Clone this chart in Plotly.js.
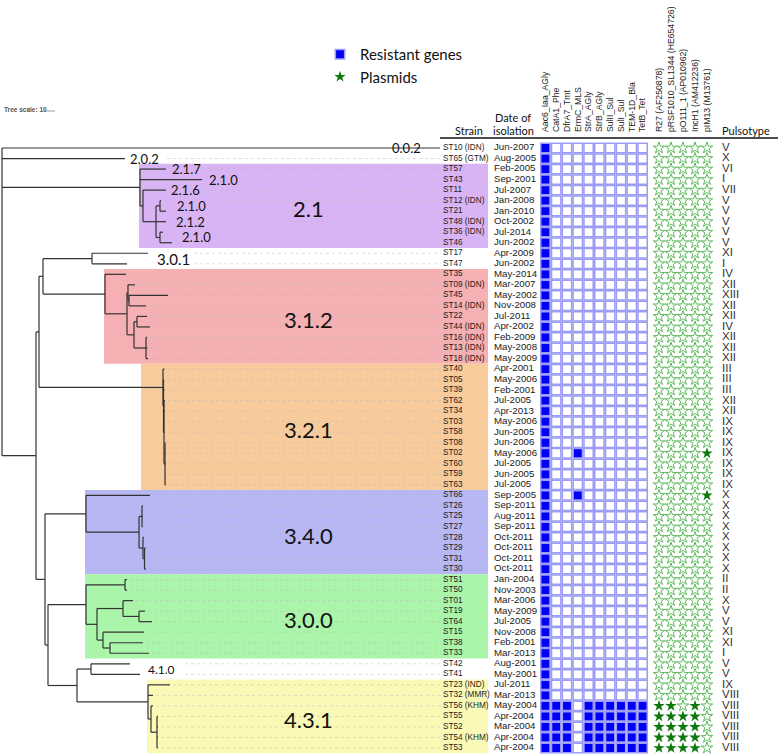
<!DOCTYPE html>
<html><head><meta charset="utf-8">
<script src="https://cdn.plot.ly/plotly-3.0.1.min.js"></script>
<style>html,body{margin:0;padding:0;background:#fff}</style>
</head><body><div id="chart" style="width:778px;height:756px"></div>
<script>
// ---------------- DATA ----------------
const strainIds = ['ST10','ST65','ST57','ST43','ST11','ST12','ST21','ST48','ST36','ST46','ST17','ST47','ST35','ST09','ST45','ST14','ST22','ST44','ST16','ST13','ST18','ST40','ST05','ST39','ST62','ST34','ST03','ST58','ST08','ST02','ST60','ST59','ST63','ST66','ST26','ST25','ST27','ST28','ST29','ST31','ST30','ST51','ST50','ST01','ST19','ST64','ST15','ST38','ST33','ST42','ST41','ST23','ST32','ST56','ST55','ST52','ST54','ST53'];
const strainOrigins = ['IDN','GTM','','','','IDN','','IDN','IDN','','','','','IDN','','IDN','','IDN','IDN','IDN','IDN','','','','','','','','','','','','','','','','','','','','','','','','','','','','','','','IND','MMR','KHM','','','KHM',''];
const isolationDates = ['Jun-2007','Aug-2005','Feb-2005','Sep-2001','Jul-2007','Jan-2008','Jan-2010','Oct-2002','Jul-2014','Jun-2002','Apr-2009','Jun-2002','May-2014','Mar-2007','May-2002','Nov-2008','Jul-2011','Apr-2002','Feb-2009','May-2008','May-2009','Apr-2001','May-2006','Feb-2001','Jul-2005','Apr-2013','May-2006','Jun-2005','Jun-2006','May-2006','Jul-2005','Jun-2005','Jul-2005','Sep-2005','Sep-2011','Aug-2011','Sep-2011','Oct-2011','Oct-2011','Oct-2011','Oct-2011','Jan-2004','Nov-2003','Mar-2006','May-2009','Jul-2005','Nov-2008','Feb-2001','Mar-2013','Aug-2001','May-2001','Jul-2011','Mar-2013','May-2004','Apr-2004','Mar-2004','Apr-2004','Apr-2004'];
const pulsotypes = ['V','X','VI','I','VII','V','V','V','V','V','XI','I','IV','XII','XIII','XII','XII','IV','XII','XII','XII','III','III','III','XII','XII','IX','IX','IX','IX','IX','IX','IX','X','X','X','X','X','X','X','X','II','II','X','V','V','XI','XI','I','V','V','IX','VIII','VIII','VIII','VIII','VIII','VIII'];

const genes = ['Aac6_Iaa_AGly','CatA1_Phe','DfrA7_Tmt','ErmC_MLS','StrA_AGly','StrB_AGly','SulII_Sul','SulI_Sul','TEM-1D_Bla','TetB_Tet'];
const plasmids = ['R27 (AF250878)','pRSF1010_SL1344 (HE654726)','pO111_1 (AP010962)','IncH1 (AM412236)','pIM13 (M13761)'];
// 1 = present
const geneProfiles = ['1000000000','1000000000','1000000000','1000000000','1000000000','1000000000','1000000000','1000000000','1000000000','1000000000',
 '1000000000','1000000000','1000000000','1000000000','1000000000','1000000000','1000000000','1000000000','1000000000','1000000000',
 '1000000000','1000000000','1000000000','1000000000','1000000000','1000000000','1000000000','1000000000','1000000000','1001000000',
 '1000000000','1000000000','1000000000','1001000000','1000000000','1000000000','1000000000','1000000000','1000000000','1000000000',
 '1000000000','1000000000','1000000000','1000000000','1000000000','1000000000','1000000000','1000000000','1000000000','1000000000',
 '1000000000','1000000000','1000000000','1110111111','1110111111','1110111111','1110111111','1110111111'];
const plasmidProfiles = ['00000','00000','00000','00000','00000','00000','00000','00000','00000','00000',
 '00000','00000','00000','00000','00000','00000','00000','00000','00000','00000',
 '00000','00000','00000','00000','00000','00000','00000','00000','00000','00001',
 '00000','00000','00000','00001','00000','00000','00000','00000','00000','00000',
 '00000','00000','00000','00000','00000','00000','00000','00000','00000','00000',
 '00000','00000','00000','11010','11110','11110','11110','11110'];

// Phylogenetic tree: node, parent, distance from root (tree units)
const treeNodes   = ['root','ST10','ST65','N21','ST57','ST43','N21b','ST11','N21c','N21d','ST12','ST21','ST48','N21e','ST36','ST46',
 'NRest','N39','N3a','N301','ST17','ST47','N312','ST35','N312b','N312c','ST09','N312e','ST45','ST14','N312d','N312f','ST22','ST44','N312g','ST16','ST13','ST18',
 'N321','N321a','ST40','N321b','ST05','ST39','N321c','ST62','ST34','ST03','ST58','N321d','ST08','ST02','ST60','ST59','ST63',
 'N45','N340','ST66','N340b','N340c','ST26','ST25','ST27','N340d','ST28','N340e','ST29','ST31','ST30',
 'NLow','N300','N300a','ST51','ST50','N300b','N300c','ST01','N300e','ST19','ST64','N300d','ST15','N300f','ST38','ST33',
 'N4','N410','ST42','ST41','N431','ST23','ST32','N431b','ST56','N431c','ST55','ST52','ST54','ST53'];
const treeParents = [null,'root','root','root','N21','N21','N21','N21b','N21b','N21c','N21d','N21d','N21c','N21c','N21e','N21e',
 'root','NRest','N39','N3a','N301','N301','N3a','N312','N312','N312b','N312c','N312c','N312e','N312e','N312b','N312d','N312f','N312f','N312d','N312g','N312g','N312g',
 'N39','N321','N321a','N321a','N321b','N321b','N321b','N321c','N321c','N321c','N321c','N321c','N321d','N321d','N321d','N321d','N321d',
 'NRest','N45','N340','N340','N340b','N340c','N340c','N340c','N340b','N340d','N340d','N340e','N340e','N340e',
 'N45','NLow','N300','N300a','N300a','N300','N300b','N300c','N300c','N300e','N300e','N300b','N300d','N300d','N300f','N300f',
 'NLow','N4','N410','N410','N4','N431','N431','N431','N431b','N431b','N431c','N431c','N431c','N431c'];
const treeDepth   = [2,440,125,140,166,202,143,166,156,160,161,166,166,160,163,172,
 36,39,43,92,148,127,105,126,127,128,135,129,168,146,134,137,147,150,146,147,147.5,148,
 142,163,164.5,163.5,164,164.5,164,165,165,164.5,165,165,165.5,166,166,165.5,166,
 45,86,150,139,142,143,143,142.5,143,144,144.5,146,145,146,
 48,86,125,127,127,97,123,133,139,145,152,103,144,110,143,149,
 77,91,130,140,148,170,153,151,153,157,158,158,158,158];

const cladeNames = ['2.1','3.1.2','3.2.1','3.4.0','3.0.0','4.3.1'];
const cladeNodes = ['N21','N312','N321','N340','N300','N431'];
const cladeFirst = ['ST57','ST35','ST40','ST66','ST51','ST23'];
const cladeLast  = ['ST46','ST18','ST63','ST30','ST33','ST53'];

const lineageText  = ['0.0.2','2.0.2','2.1.7','2.1.0','2.1.6','2.1.0','2.1.2','2.1.0','3.0.1','4.1.0'];
const lineageFirst = ['ST10','ST65','ST57','ST43','ST11','ST12','ST48','ST36','ST17','ST42'];
const lineageLast  = ['ST10','ST65','ST57','ST43','ST11','ST21','ST48','ST46','ST47','ST41'];

// ---------------- STYLE / LAYOUT HELPERS ----------------
const W = 778, H = 756;
const py = v => 1 - v / H;
const cladeColors = ['#d9b4f4','#f4b0b2','#f8cb9d','#b7b7f4','#aaf5aa','#fafab6'];
const lineageOffsets = [-50, 3, 4, 5, 3, 9, 8, 8, 7, 6];
const lineageSizes = [13,13,13,13,13,13,13,13,15,12];
const arial = 'Liberation Sans, Arial, sans-serif';
const calibri = 'Lato, Open Sans, sans-serif';

// ---------------- TREE GEOMETRY ----------------
const nodeIdx = {}; treeNodes.forEach((n, i) => nodeIdx[n] = i);
const rowOf = {}; strainIds.forEach((s, i) => rowOf[s] = i);
const kids = treeNodes.map(() => []);
treeParents.forEach((p, i) => { if (p) kids[nodeIdx[p]].push(i); });
const yPos = new Array(treeNodes.length);
(function setY(i) {
  if (kids[i].length === 0) { yPos[i] = rowOf[treeNodes[i]]; return; }
  kids[i].forEach(setY);
  const c = kids[i];
  yPos[i] = (yPos[c[0]] + yPos[c[c.length - 1]]) / 2;
})(0);
const tx = [], ty = [];
treeNodes.forEach((n, i) => {
  const p = treeParents[i];
  if (p) { tx.push(treeDepth[nodeIdx[p]], treeDepth[i], null); ty.push(yPos[i], yPos[i], null); }
  if (kids[i].length > 1) {
    const ys = kids[i].map(k => yPos[k]);
    tx.push(treeDepth[i], treeDepth[i], null); ty.push(Math.min(...ys), Math.max(...ys), null);
  }
});
const tipDepth = s => treeDepth[nodeIdx[s]];

// lineage labels positions
const labelStart = {};
const lineageAnn = lineageText.map((t, k) => {
  const r0 = rowOf[lineageFirst[k]], r1 = rowOf[lineageLast[k]];
  let mx = 0; for (let r = r0; r <= r1; r++) mx = Math.max(mx, tipDepth(strainIds[r]));
  const x = mx + lineageOffsets[k];
  for (let r = r0; r <= r1; r++) labelStart[r] = x + t.length * 7 + 4;
  return {x: x, y: (r0 + r1) / 2, xref: 'x', yref: 'y', text: t, showarrow: false, xanchor: 'left', yanchor: 'middle',
          font: {family: calibri, size: lineageSizes[k], color: '#111'}};
});

// dotted leaders
const lx = [], ly = [];
strainIds.forEach((s, r) => {
  if (r === 0) return;
  const start = labelStart[r] !== undefined ? labelStart[r] : tipDepth(s) + 3;
  lx.push(start, 441, null); ly.push(r, r, null);
});

// matrix points
const gE = {x: [], y: []}, gF = {x: [], y: []}, pE = {x: [], y: []}, pF = {x: [], y: []};
geneProfiles.forEach((prof, r) => prof.split('').forEach((c, j) => { const o = c === '1' ? gF : gE; o.x.push(genes[j]); o.y.push(r); }));
plasmidProfiles.forEach((prof, r) => prof.split('').forEach((c, j) => { const o = c === '1' ? pF : pE; o.x.push(plasmids[j]); o.y.push(r); }));

const rows = strainIds.map((s, i) => i);
const strainLabels = strainIds.map((s, i) => strainOrigins[i] ? s + ' (' + strainOrigins[i] + ')' : s);

const cellLine = {color: '#9c9cf6', width: 1.5};
const traces = [
  {type: 'scatter', mode: 'lines', x: lx, y: ly, line: {color: 'rgba(185,185,185,0.45)', width: 1, dash: 'dot'}, hoverinfo: 'skip', showlegend: false},
  {type: 'scatter', mode: 'lines', x: tx, y: ty, line: {color: '#333', width: 1.2}, hoverinfo: 'skip', showlegend: false},
  {type: 'scatter', mode: 'markers', x: gE.x, y: gE.y, xaxis: 'x2', marker: {symbol: 'square', size: 9.3, color: '#fff', line: cellLine}, showlegend: false},
  {type: 'scatter', mode: 'markers', x: gF.x, y: gF.y, xaxis: 'x2', name: 'Resistant genes', marker: {symbol: 'square', size: 9.3, color: '#0000f5', line: cellLine}, showlegend: true},
  {type: 'scatter', mode: 'markers', x: pE.x, y: pE.y, xaxis: 'x3', marker: {symbol: 'star-open', size: 8.6, color: '#4cb24c', line: {width: 0.9}}, showlegend: false},
  {type: 'scatter', mode: 'markers', x: pF.x, y: pF.y, xaxis: 'x3', name: 'Plasmids', marker: {symbol: 'star', size: 8.6, color: '#0c780c'}, showlegend: true},
  {type: 'scatter', mode: 'text', x: rows.map(() => 443), y: rows, text: strainLabels, textposition: 'middle right', textfont: {family: arial, size: 8.2, color: '#1a1a1a'}, showlegend: false, hoverinfo: 'skip', cliponaxis: false},
  {type: 'scatter', mode: 'text', x: rows.map(() => 494), y: rows, text: isolationDates, textposition: 'middle right', textfont: {family: arial, size: 9.7, color: '#222'}, showlegend: false, hoverinfo: 'skip', cliponaxis: false},
  {type: 'scatter', mode: 'text', x: rows.map(() => 722), y: rows, text: pulsotypes, textposition: 'middle right', textfont: {family: arial, size: 11.5, color: '#333'}, showlegend: false, hoverinfo: 'skip', cliponaxis: false}
];

const shapes = cladeNames.map((c, k) => ({
  type: 'rect', layer: 'below', xref: 'x', yref: 'y', x0: tipDepth(cladeNodes[k]) - 1, x1: 488,
  y0: rowOf[cladeFirst[k]] - 0.5, y1: rowOf[cladeLast[k]] + 0.5, fillcolor: cladeColors[k], line: {width: 0}
}));
shapes.push({type: 'line', xref: 'paper', yref: 'paper', x0: 440 / W, x1: 1, y0: py(138), y1: py(138), line: {color: '#111', width: 1.5}});
// tree scale bar (10 tree units)
shapes.push({type: 'line', xref: 'x', yref: 'paper', x0: 45, x1: 55, y0: py(111), y1: py(111), line: {color: '#888', width: 0.8}});

const annotations = cladeNames.map((c, k) => ({
  x: 308, y: (rowOf[cladeFirst[k]] + rowOf[cladeLast[k]]) / 2, xref: 'x', yref: 'y', text: c, showarrow: false,
  yshift: -3, font: {family: calibri, size: 22, color: '#111'}
})).concat(lineageAnn).concat([
  {x: 2 / W, y: py(110), xref: 'paper', yref: 'paper', text: '<b>Tree scale: 10</b>', showarrow: false, xanchor: 'left', yanchor: 'middle', font: {family: arial, size: 6.5, color: '#555'}},
  {x: 453 / W, y: py(131), xref: 'paper', yref: 'paper', text: 'Strain', showarrow: false, xanchor: 'left', yanchor: 'middle', font: {family: calibri, size: 11, color: '#111'}},
  {x: 513 / W, y: py(117), xref: 'paper', yref: 'paper', text: 'Date of', showarrow: false, xanchor: 'center', yanchor: 'middle', font: {family: calibri, size: 11, color: '#111'}},
  {x: 513 / W, y: py(131), xref: 'paper', yref: 'paper', text: 'isolation', showarrow: false, xanchor: 'center', yanchor: 'middle', font: {family: calibri, size: 11, color: '#111'}},
  {x: 720 / W, y: py(131), xref: 'paper', yref: 'paper', text: 'Pulsotype', showarrow: false, xanchor: 'left', yanchor: 'middle', font: {family: calibri, size: 11, color: '#111'}}
]);

const hidden = {showgrid: false, zeroline: false, showline: false, ticks: '', showticklabels: false, fixedrange: true};
const layout = {
  width: W, height: H, margin: {l: 0, r: 0, t: 0, b: 0}, paper_bgcolor: '#fff', plot_bgcolor: 'rgba(0,0,0,0)',
  xaxis: Object.assign({range: [0, W], domain: [0, 1]}, hidden),
  yaxis: Object.assign({range: [57.76, -14.06], domain: [0, 1]}, hidden),
  xaxis2: {type: 'category', categoryorder: 'array', categoryarray: genes, range: [-0.5, 9.5], domain: [540 / W, 648 / W],
           anchor: 'free', position: py(132), side: 'top', tickangle: -90, showgrid: false, zeroline: false, showline: false, ticks: '',
           tickfont: {family: arial, size: 8.7, color: '#222'}, fixedrange: true},
  xaxis3: {type: 'category', categoryorder: 'array', categoryarray: plasmids, range: [-0.5, 4.5], domain: [653 / W, 713 / W],
           anchor: 'free', position: py(132), side: 'top', tickangle: -90, showgrid: false, zeroline: false, showline: false, ticks: '',
           tickfont: {family: arial, size: 8.7, color: '#222'}, fixedrange: true},
  showlegend: true,
  legend: {x: 320 / W, y: py(38), xanchor: 'left', yanchor: 'top', bgcolor: 'rgba(0,0,0,0)', itemsizing: 'trace', traceorder: 'normal',
           font: {family: calibri, size: 15, color: '#111'}, itemclick: false, itemdoubleclick: false},
  shapes: shapes, annotations: annotations
};
Plotly.newPlot('chart', traces, layout, {staticPlot: true, displayModeBar: false});
</script></body></html>
